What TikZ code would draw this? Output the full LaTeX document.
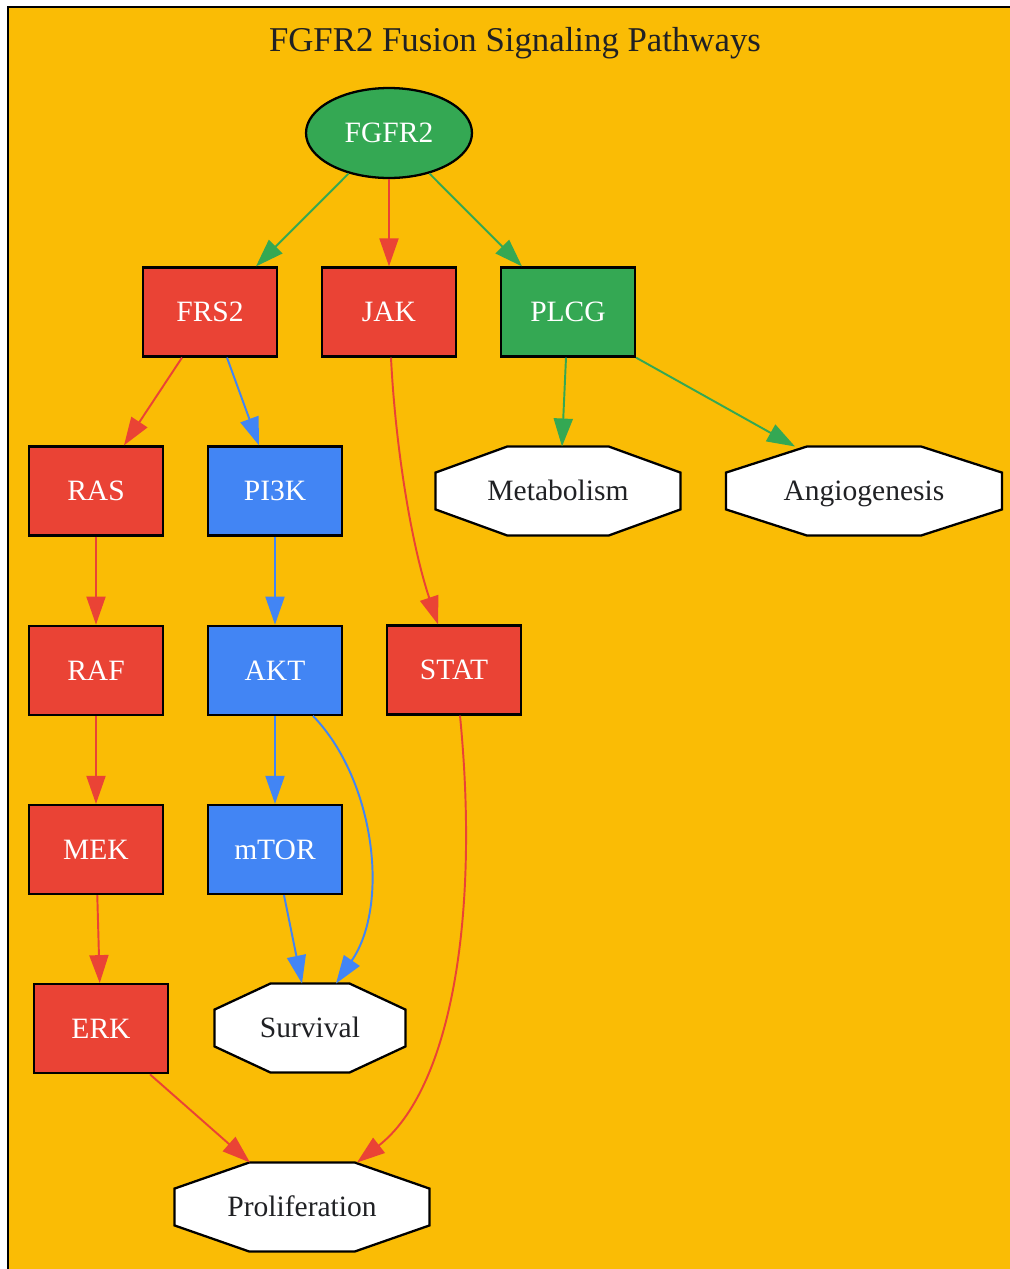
\documentclass[tikz,border=0pt]{standalone}
\usepackage{fontspec}
\setmainfont{Liberation Serif}
\usetikzlibrary{arrows.meta,positioning,shapes.geometric,backgrounds,calc}
\definecolor{gred}{HTML}{EA4335}
\definecolor{gblue}{HTML}{4285F4}
\definecolor{ggreen}{HTML}{34A853}
\definecolor{gyellow}{HTML}{FABC05}
\definecolor{inkgrey}{HTML}{202124}

\tikzset{
  label text/.style={font=\fontsize{16.8}{20}\selectfont,text height=15pt,text depth=3.9pt},
  gene/.style={rectangle,draw=black,line width=1.3pt,minimum width=2.68cm,minimum height=1.78cm,
    text=white,label text},
  receptor/.style={ellipse,draw=black,line width=1.3pt,fill=ggreen,minimum width=3.32cm,minimum height=1.8cm,
    text=white,label text},
  outcome/.style={rectangle,outer sep=0pt,minimum height=1.78cm,text=inkgrey,label text},
  octline/.style={draw=black,fill=white,line width=1.3pt,line join=miter},
  link/.style={line width=1.1pt,-{Triangle[length=5.6mm,width=3.8mm]}},
}

\begin{document}
\begin{tikzpicture}[x=0.02cm,y=-0.02cm]
\useasboundingbox (0,0) rectangle (1010,1269);
\node[text=inkgrey,font=\fontsize{19.8}{23}\selectfont,text height=17pt,text depth=3.9pt] (title) at (515,40) {FGFR2 Fusion Signaling Pathways};

% receptor and first row
\node[receptor] (fgfr2) at (389,133) {FGFR2};
\node[gene,fill=gred] (frs2) at (210,312) {FRS2};
\node[gene,fill=gred] (jak) at (389,312) {JAK};
\node[gene,fill=ggreen] (plcg) at (568,312) {PLCG};

% MAPK branch
\node[gene,fill=gred] (ras) at (96,491) {RAS};
\node[gene,fill=gred,below=1.76cm of ras] (raf) {RAF};
\node[gene,fill=gred,below=1.76cm of raf] (mek) {MEK};
\node[gene,fill=gred,below=1.76cm of mek,xshift=0.1cm] (erk) {ERK};

% PI3K branch
\node[gene,fill=gblue] (pi3k) at (275,491) {PI3K};
\node[gene,fill=gblue,below=1.76cm of pi3k] (akt) {AKT};
\node[gene,fill=gblue,below=1.76cm of akt] (mtor) {mTOR};

\node[gene,fill=gred] (stat) at (454,670) {STAT};

% outcomes
\node[outcome,minimum width=4.9cm] (metab) at (558,491) {Metabolism};
\node[outcome,minimum width=5.52cm] (angio) at (864,491) {Angiogenesis};
\node[outcome,minimum width=3.82cm] (surv) at (310,1028) {Survival};
\node[outcome,minimum width=5.1cm] (prolif) at (302,1207) {Proliferation};

% edges
\draw[link,ggreen] (fgfr2) -- ([xshift=0.92cm]frs2.north);
\draw[link,gred] (fgfr2) -- (jak);
\draw[link,ggreen] (fgfr2) -- ([xshift=-0.92cm]plcg.north);
\draw[link,gred] ([xshift=-0.56cm]frs2.south) -- ([xshift=0.56cm]ras.north);
\draw[link,gblue] ([xshift=0.34cm]frs2.south) -- ([xshift=-0.32cm]pi3k.north);
\draw[link,gred] ([xshift=0.04cm]jak.south) .. controls (395,440) and (410,540) .. ([xshift=-0.32cm]stat.north);
\draw[link,ggreen] ([xshift=-0.04cm]plcg.south) -- ([xshift=0.08cm]metab.north);
\draw[link,ggreen] (plcg.south east) -- ([xshift=-1.38cm]angio.north);
\draw[link,gred] (ras) -- (raf);
\draw[link,gred] (raf) -- (mek);
\draw[link,gred] (mek) -- (erk);
\draw[link,gblue] (pi3k) -- (akt);
\draw[link,gblue] (akt) -- (mtor);
\draw[link,gblue] ([xshift=0.76cm]akt.south) .. controls (375,780) and (390,905) .. ([xshift=0.52cm]surv.north);
\draw[link,gblue] ([xshift=0.18cm]mtor.south) -- ([xshift=-0.16cm]surv.north);
\draw[link,gred] ([xshift=0.98cm]erk.south) -- ([xshift=-1.04cm]prolif.north);
\draw[link,gred] ([xshift=0.12cm]stat.south) .. controls (480,920) and (450,1090) .. ([xshift=1.1cm]prolif.north);

% cluster and octagon outlines
\begin{scope}[on background layer]
\draw[fill=gyellow,line width=1.3pt] (8,7) rectangle (1040,1300);
\foreach \n in {metab,angio,surv,prolif}
  \draw[octline] ($(\n.north west)!0.2929!(\n.north east)$) -- ($(\n.north west)!0.7071!(\n.north east)$)
    -- ($(\n.north east)!0.2929!(\n.south east)$) -- ($(\n.north east)!0.7071!(\n.south east)$)
    -- ($(\n.south east)!0.2929!(\n.south west)$) -- ($(\n.south east)!0.7071!(\n.south west)$)
    -- ($(\n.south west)!0.2929!(\n.north west)$) -- ($(\n.south west)!0.7071!(\n.north west)$) -- cycle;
\end{scope}
\end{tikzpicture}
\end{document}
